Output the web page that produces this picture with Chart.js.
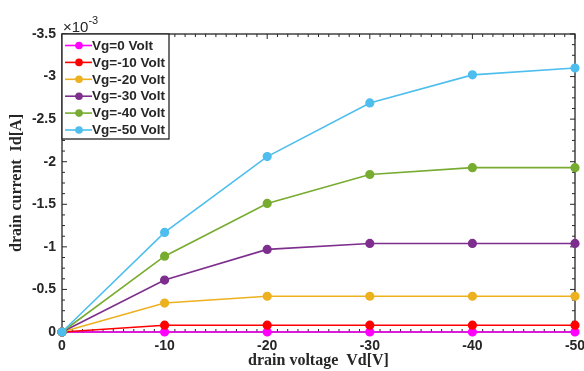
<!DOCTYPE html>
<html>
<head>
<meta charset="utf-8">
<script src="https://cdn.jsdelivr.net/npm/chart.js@4/dist/chart.umd.min.js"></script>
<style>
  html, body { margin: 0; padding: 0; background: #ffffff; }
  #wrap { width: 584px; height: 371px; position: relative; }
</style>
</head>
<body>
<div id="wrap"><canvas id="c" width="584" height="371"></canvas></div>
<script>
// ---- data (Id in units of 1e-3 A) ----
const drainVoltage = [0, -10, -20, -30, -40, -50];
const seriesNames = ['Vg=0 Volt', 'Vg=-10 Volt', 'Vg=-20 Volt', 'Vg=-30 Volt', 'Vg=-40 Volt', 'Vg=-50 Volt'];
const idVg0   = [0, 0, 0, 0, 0, 0];
const idVg10  = [0, -0.08, -0.08, -0.08, -0.08, -0.08];
const idVg20  = [0, -0.34, -0.42, -0.42, -0.42, -0.42];
const idVg30  = [0, -0.61, -0.97, -1.04, -1.04, -1.04];
const idVg40  = [0, -0.89, -1.51, -1.85, -1.93, -1.93];
const idVg50  = [0, -1.17, -2.06, -2.69, -3.02, -3.10];
const xTicks = [0, -10, -20, -30, -40, -50];
const yTicks = [0, -0.5, -1, -1.5, -2, -2.5, -3, -3.5];
const seriesColors = ['#FF00FF', '#FF0000', '#EDB120', '#7E2F8E', '#77AC30', '#4DBEEE'];
const seriesValues = [idVg0, idVg10, idVg20, idVg30, idVg40, idVg50];

const AX = '#262626';
const SANS = '"Liberation Sans", Arial, sans-serif';
const SERIF = '"Liberation Serif", "Times New Roman", serif';

const datasets = seriesValues.map((vals, i) => ({
  label: seriesNames[i],
  data: vals.map((v, k) => ({ x: drainVoltage[k], y: v })),
  borderColor: seriesColors[i],
  backgroundColor: seriesColors[i],
  pointBackgroundColor: seriesColors[i],
  pointBorderColor: seriesColors[i],
  borderWidth: 1.6,
  pointRadius: 3.8,
  pointHoverRadius: 3.8,
  tension: 0,
  clip: false,
  order: seriesValues.length - 1 - i
}));

const boxPlugin = {
  id: 'boxTicks',
  beforeDatasetsDraw(chart) {
    const { ctx, chartArea: a, scales: { x, y } } = chart;
    ctx.save();
    ctx.strokeStyle = AX;
    ctx.lineWidth = 1.3;
    ctx.strokeRect(a.left, a.top, a.right - a.left, a.bottom - a.top);
    ctx.lineWidth = 1;
    ctx.beginPath();
    for (let v = 0; v >= -50; v -= 1) {
      const px = x.getPixelForValue(v);
      const len = (v % 10 === 0) ? 5 : 3;
      ctx.moveTo(px, a.bottom); ctx.lineTo(px, a.bottom - len);
      ctx.moveTo(px, a.top); ctx.lineTo(px, a.top + len);
    }
    for (let k = 0; k <= 28; k++) {
      const v = -k * 0.125;
      const py = y.getPixelForValue(v);
      const len = (k % 4 === 0) ? 5 : 3;
      ctx.moveTo(a.left, py); ctx.lineTo(a.left + len, py);
      ctx.moveTo(a.right, py); ctx.lineTo(a.right - len, py);
    }
    ctx.stroke();
    // exponent label
    ctx.fillStyle = AX;
    ctx.textBaseline = 'alphabetic';
    ctx.textAlign = 'left';
    ctx.font = '15px ' + SANS;
    ctx.fillText('\u00D7' + '10', a.left + 1, a.top - 2);
    const w = ctx.measureText('\u00D710').width;
    ctx.font = '11px ' + SANS;
    ctx.fillText('-3', a.left + 1 + w, a.top - 10);
    ctx.restore();
  },
  afterDatasetsDraw(chart) {
    const { ctx, chartArea: a } = chart;
    ctx.save();
    const bx = a.left, by = a.top, bw = 107, bh = 105;
    ctx.fillStyle = '#ffffff';
    ctx.fillRect(bx, by, bw, bh);
    ctx.strokeStyle = AX;
    ctx.lineWidth = 1.3;
    ctx.strokeRect(bx, by, bw, bh);
    ctx.font = 'bold 13.5px ' + SANS;
    ctx.textBaseline = 'middle';
    ctx.textAlign = 'left';
    chart.data.datasets.forEach((ds, i) => {
      const ry = by + 11.5 + i * 16.9;
      ctx.strokeStyle = ds.borderColor;
      ctx.lineWidth = 1.6;
      ctx.beginPath();
      ctx.moveTo(bx + 3, ry); ctx.lineTo(bx + 30, ry);
      ctx.stroke();
      ctx.fillStyle = ds.borderColor;
      ctx.beginPath();
      ctx.arc(bx + 17, ry, 3.8, 0, Math.PI * 2);
      ctx.fill();
      ctx.fillStyle = AX;
      ctx.fillText(ds.label, bx + 30, ry + 0.5);
    });
    ctx.restore();
  }
};

new Chart(document.getElementById('c'), {
  type: 'line',
  data: { datasets },
  options: {
    responsive: false,
    animation: false,
    devicePixelRatio: 1,
    layout: { padding: { top: 34, right: 9, left: 0, bottom: 0 } },
    plugins: { legend: { display: false }, tooltip: { enabled: false } },
    scales: {
      x: {
        type: 'linear', min: -50, max: 0, reverse: true,
        afterFit(s) { s.height = 39; s.paddingLeft = 0; s.paddingRight = 0; },
        afterBuildTicks(s) { s.ticks = xTicks.map(v => ({ value: v })); },
        grid: { display: false, drawTicks: false },
        border: { display: false },
        ticks: { color: AX, padding: 6, font: { family: SANS, size: 14, weight: 'bold' }, maxRotation: 0,
                 callback: v => String(v) },
        title: { display: true, text: 'drain voltage  Vd[V]', color: AX, padding: { top: 0, bottom: 1 },
                 font: { family: SERIF, size: 16, weight: 'bold' } }
      },
      y: {
        type: 'linear', min: -3.5, max: 0, reverse: true,
        afterFit(s) { s.width = 62; s.paddingTop = 0; s.paddingBottom = 0; },
        afterBuildTicks(s) { s.ticks = yTicks.map(v => ({ value: v })); },
        grid: { display: false, drawTicks: false },
        border: { display: false },
        ticks: { color: AX, padding: 6, font: { family: SANS, size: 14, weight: 'bold' },
                 callback: v => String(v) },
        title: { display: true, text: 'drain current  Id[A]', color: AX, padding: { top: 7, bottom: 0 },
                 font: { family: SERIF, size: 16, weight: 'bold' } }
      }
    }
  },
  plugins: [boxPlugin]
});
</script>
</body>
</html>
